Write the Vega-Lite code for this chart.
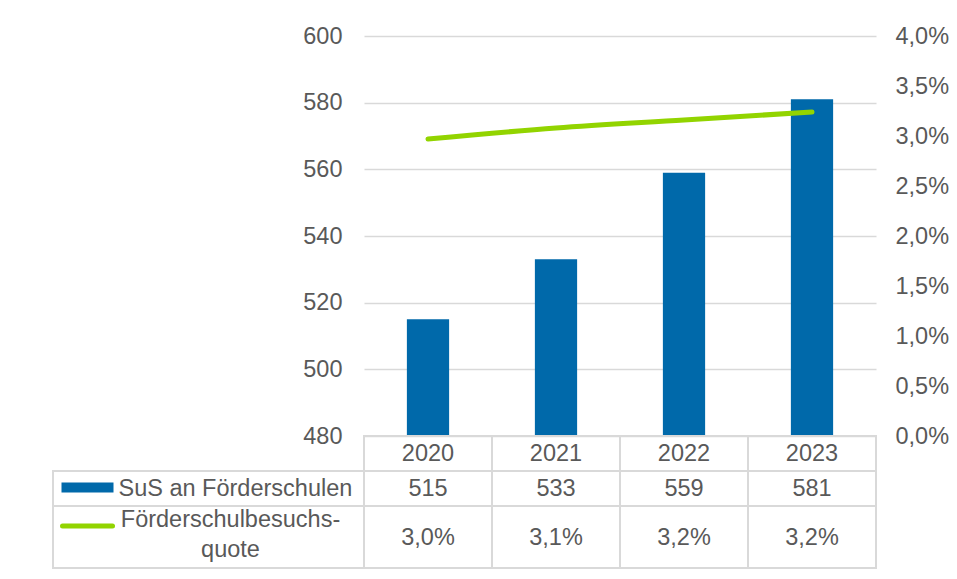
{
  "$schema": "https://vega.github.io/schema/vega-lite/v6.json",
  "background": "white",
  "padding": {"left": 52, "top": 24, "right": 5, "bottom": 5},
  "config": {
    "view": {"stroke": null},
    "font": "Liberation Sans",
    "locale": {"number": {"decimal": ",", "thousands": ".", "grouping": [3], "currency": ["", " €"]}},
    "axis": {"labelFont": "Liberation Sans", "labelFontSize": 23.5, "labelColor": "#595959"},
    "text": {"font": "Liberation Sans", "fontSize": 23.5, "color": "#595959"}
  },
  "datasets": {
    "main": [
      {"year": "2020", "sus": 515, "quote": 0.0297},
      {"year": "2021", "sus": 533, "quote": 0.0308},
      {"year": "2022", "sus": 559, "quote": 0.0316},
      {"year": "2023", "sus": 581, "quote": 0.0324}
    ],
    "one": [{"sus_label": "SuS an Förderschulen", "quote_label": ["Förderschulbesuchs-", "quote"]}]
  },
  "columns": 2,
  "spacing": 0,
  "bounds": "flush",
  "align": "each",
  "concat": [
    {
      "width": 311,
      "height": 400,
      "data": {"name": "one"},
      "mark": {"type": "text", "opacity": 0},
      "encoding": {}
    },
    {
      "width": 512,
      "height": 400,
      "data": {"name": "main"},
      "layer": [
        {
          "mark": {"type": "bar", "color": "#0069AA", "width": {"band": 0.33}},
          "encoding": {
            "x": {"field": "year", "type": "ordinal", "scale": {"paddingInner": 0, "paddingOuter": 0}, "axis": null},
            "y": {
              "field": "sus", "type": "quantitative",
              "scale": {"domain": [480, 600], "zero": false, "nice": false},
              "axis": {"values": [480, 500, 520, 540, 560, 580, 600], "grid": true, "gridColor": "#d9d9d9", "gridWidth": 1.5, "domain": false, "ticks": false, "labelPadding": 22, "title": null}
            },
            "y2": {"datum": 480}
          }
        },
        {
          "mark": {"type": "line", "color": "#92D400", "strokeWidth": 5, "strokeCap": "round", "interpolate": "monotone"},
          "encoding": {
            "x": {"field": "year", "type": "ordinal"},
            "y": {
              "field": "quote", "type": "quantitative",
              "scale": {"domain": [0, 0.04], "nice": false},
              "axis": {"orient": "right", "format": ".1%", "values": [0, 0.005, 0.01, 0.015, 0.02, 0.025, 0.03, 0.035, 0.04], "grid": false, "domain": false, "ticks": false, "labelPadding": 19, "title": null}
            }
          }
        }
      ],
      "resolve": {"scale": {"y": "independent"}}
    },
    {
      "width": 311,
      "height": 70,
      "data": {"name": "one"},
      "encoding": {
        "y": {"datum": "s", "type": "nominal", "scale": {"domain": ["h", "s"], "paddingInner": 0, "paddingOuter": 0}, "axis": null}
      },
      "layer": [
        {"mark": {"type": "rect", "fill": null, "stroke": "#d9d9d9", "strokeWidth": 2}},
        {"mark": {"type": "point", "shape": "M-1,-0.19H1V0.19H-1Z", "size": 2704, "filled": true, "fill": "#0069AA", "opacity": 1, "xOffset": -121, "yOffset": -1}},
        {"mark": {"type": "text", "align": "left", "dx": -90, "dy": 0}, "encoding": {"text": {"field": "sus_label"}}}
      ]
    },
    {
      "width": 512,
      "height": 70,
      "data": {"name": "main"},
      "encoding": {
        "x": {"field": "year", "type": "ordinal", "scale": {"paddingInner": 0, "paddingOuter": 0}, "axis": null}
      },
      "layer": [
        {"mark": {"type": "rect", "fill": null, "stroke": "#d9d9d9", "strokeWidth": 2},
         "encoding": {"y": {"datum": "h", "type": "nominal", "scale": {"domain": ["h", "s"], "paddingInner": 0, "paddingOuter": 0}, "axis": null}}},
        {"mark": {"type": "rect", "fill": null, "stroke": "#d9d9d9", "strokeWidth": 2},
         "encoding": {"y": {"datum": "s", "type": "nominal"}}},
        {"mark": {"type": "text"}, "encoding": {"y": {"datum": "h", "type": "nominal"}, "text": {"field": "year"}}},
        {"mark": {"type": "text"}, "encoding": {"y": {"datum": "s", "type": "nominal"}, "text": {"field": "sus"}}}
      ]
    },
    {
      "width": 311,
      "height": 62,
      "data": {"name": "one"},
      "layer": [
        {"mark": {"type": "rect", "fill": null, "stroke": "#d9d9d9", "strokeWidth": 2}},
        {"mark": {"type": "point", "shape": "stroke", "size": 2500, "stroke": "#92D400", "strokeWidth": 5, "strokeCap": "round", "opacity": 1, "xOffset": -121, "yOffset": -11}},
        {"mark": {"type": "text", "align": "center", "dx": 22, "dy": -17, "lineHeight": 30}, "encoding": {"text": {"field": "quote_label"}}}
      ]
    },
    {
      "width": 512,
      "height": 62,
      "data": {"name": "main"},
      "encoding": {
        "x": {"field": "year", "type": "ordinal", "scale": {"paddingInner": 0, "paddingOuter": 0}, "axis": null}
      },
      "layer": [
        {"mark": {"type": "rect", "fill": null, "stroke": "#d9d9d9", "strokeWidth": 2}},
        {"mark": {"type": "text", "dy": 1}, "encoding": {"text": {"field": "quote", "format": ".1%"}}}
      ]
    }
  ]
}
